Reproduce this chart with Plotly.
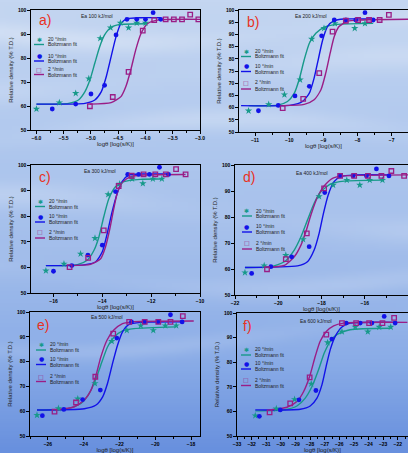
import math
import zlib
import struct
import base64
import plotly.graph_objects as go

W, H = 408, 453
TEAL = '#17998a'
BLUE = '#1212e8'
PURPLE = '#9a1d86'
RED = '#e8321f'

# ---------------- data ----------------
# Panel a  (Ea 100 kJ/mol)
a_x20 = [-6.0, -5.58, -5.28, -5.04, -4.83, -4.64, -4.46, -4.31, -4.16, -4.0]
a_y20 = [58.75, 61.4, 65.3, 71.4, 88.2, 92.6, 94.6, 92.6, 94.6, 94.6]
a_fx20 = [-6.0, -5.41, -5.23, -5.11, -5.02, -4.93, -4.84, -4.75, -4.63, -4.45, -4.0]
a_fy20 = [60.8, 61.1, 62.5, 66.0, 70.8, 77.8, 84.7, 89.6, 92.8, 94.0, 94.3]
a_x10 = [-5.71, -5.28, -5.0, -4.75, -4.54, -4.34, -4.16, -4.0, -3.86, -3.72]
a_y10 = [58.75, 60.8, 65.0, 68.6, 89.6, 96.1, 96.1, 96.1, 98.9, 96.1]
a_fx10 = [-6.0, -5.11, -4.93, -4.81, -4.72, -4.63, -4.54, -4.45, -4.33, -4.08, -3.72]
a_fy10 = [60.8, 61.1, 62.5, 66.0, 72.2, 80.6, 88.9, 94.4, 96.4, 96.8, 96.8]
a_x2 = [-5.02, -4.60, -4.31, -4.05, -3.84, -3.63, -3.48, -3.33, -3.18, -3.03]
a_y2 = [59.9, 63.75, 74.2, 91.4, 95.8, 96.1, 96.1, 96.1, 98.1, 96.1]
a_fx2 = [-5.02, -4.63, -4.45, -4.36, -4.27, -4.18, -4.08, -3.96, -3.78, -3.0]
a_fy2 = [60.8, 61.4, 63.9, 68.1, 75.0, 83.3, 90.3, 94.4, 95.8, 96.1]

# Panel b  (Ea 200 kJ/mol)
b_x20 = [-11.19, -10.60, -10.14, -9.68, -9.34, -8.98, -8.66, -8.08, -7.78]
b_y20 = [58.7, 61.3, 65.3, 71.4, 88.1, 92.5, 94.5, 92.5, 94.5]
b_fx20 = [-11.19, -10.34, -10.05, -9.85, -9.71, -9.56, -9.41, -9.22, -8.98, -8.59, -7.54]
b_fy20 = [60.8, 61.0, 62.5, 65.9, 71.4, 79.6, 86.4, 90.5, 92.9, 94.1, 94.5]
b_x10 = [-10.90, -10.32, -9.83, -9.41, -9.05, -8.68, -8.34, -8.05, -7.78, -7.54]
b_y10 = [58.7, 60.9, 64.8, 68.7, 89.4, 95.9, 95.9, 95.9, 98.9, 95.9]
b_fx10 = [-11.41, -9.95, -9.61, -9.41, -9.27, -9.15, -9.02, -8.88, -8.68, -8.39, -7.54]
b_fy10 = [60.8, 61.0, 62.5, 65.9, 72.1, 79.6, 87.7, 93.2, 95.6, 96.3, 96.3]
b_x2 = [-10.19, -9.59, -9.12, -8.73, -8.34, -7.98, -7.66, -7.35, -7.08]
b_y2 = [59.8, 63.6, 74.1, 91.1, 95.6, 95.9, 95.9, 95.9, 98.0]
b_fx2 = [-10.19, -9.56, -9.27, -9.07, -8.93, -8.80, -8.68, -8.54, -8.29, -7.91, -6.52]
b_fy2 = [60.8, 61.3, 63.2, 67.3, 74.1, 82.3, 89.1, 93.2, 95.4, 95.9, 96.2]

# Panel c  (Ea 300 kJ/mol)
c_x20 = [-16.31, -15.57, -14.89, -14.30, -13.76, -13.29, -12.78, -12.34, -11.93, -11.56]
c_y20 = [58.7, 61.4, 65.3, 71.4, 88.5, 92.6, 94.6, 92.8, 94.6, 94.6]
c_fx20 = [-16.31, -15.02, -14.62, -14.34, -14.14, -13.94, -13.73, -13.46, -13.12, -12.45, -11.56]
c_fy20 = [60.7, 61.1, 62.8, 66.7, 71.9, 79.8, 86.9, 91.5, 93.5, 94.4, 94.5]
c_x10 = [-16.0, -15.25, -14.59, -14.0, -13.46, -12.96, -12.51, -12.07, -11.66, -11.29]
c_y10 = [58.5, 60.7, 64.8, 68.7, 89.6, 96.3, 96.3, 96.3, 99.1, 96.3]
c_fx10 = [-16.31, -14.75, -14.28, -14.0, -13.80, -13.60, -13.39, -13.19, -12.92, -12.44, -11.29]
c_fy10 = [60.7, 61.0, 62.1, 66.1, 73.2, 81.7, 88.9, 93.5, 96.0, 96.5, 96.5]
c_x2 = [-15.34, -14.58, -13.94, -13.33, -12.80, -12.31, -11.83, -11.40, -10.98, -10.59]
c_y2 = [60.1, 63.7, 74.5, 91.8, 95.8, 96.3, 96.3, 96.3, 98.4, 96.3]
c_fx2 = [-15.34, -14.48, -14.07, -13.87, -13.69, -13.53, -13.37, -13.15, -12.85, -12.31, -10.59]
c_fy2 = [60.7, 61.2, 63.4, 68.0, 75.2, 83.0, 89.6, 93.5, 95.4, 96.1, 96.3]

# Panel d  (Ea 400 kJ/mol)
d_x20 = [-21.54, -20.65, -19.65, -18.85, -18.11, -17.46, -16.83, -16.23, -15.77, -15.18]
d_y20 = [58.6, 61.3, 65.3, 71.4, 87.9, 92.3, 94.2, 92.3, 94.2, 94.2]
d_fx20 = [-21.54, -20.34, -19.72, -19.26, -18.95, -18.65, -18.34, -18.03, -17.57, -16.95, -15.18]
d_fy20 = [60.6, 60.9, 62.8, 67.3, 72.4, 78.8, 85.3, 89.7, 92.7, 93.8, 94.2]
d_x10 = [-21.23, -20.34, -19.38, -18.57, -17.85, -17.14, -16.54, -15.92, -15.46, -14.88]
d_y10 = [58.3, 60.9, 64.7, 68.6, 89.4, 95.8, 95.8, 95.8, 98.5, 95.8]
d_fx10 = [-21.54, -19.11, -18.65, -18.34, -18.11, -17.91, -17.69, -17.42, -17.11, -16.49, -14.88]
d_fy10 = [60.6, 61.2, 62.8, 67.3, 73.7, 81.4, 88.5, 93.6, 95.5, 96.2, 96.2]
d_x2 = [-20.52, -19.65, -18.68, -17.88, -17.14, -16.49, -15.85, -15.23, -14.77, -14.18]
d_y2 = [59.9, 63.8, 73.7, 91.0, 95.8, 95.8, 95.8, 95.8, 97.7, 95.8]
d_fx2 = [-20.52, -19.72, -19.26, -18.95, -18.72, -18.49, -18.18, -17.88, -17.49, -16.95, -14.0]
d_fy2 = [60.6, 61.4, 64.7, 69.2, 74.4, 80.8, 87.8, 91.9, 94.9, 95.8, 96.2]

# Panel e  (Ea 500 kJ/mol)
e_x20 = [-26.61, -25.41, -24.33, -23.37, -22.43, -21.59, -20.81, -20.11, -19.44, -18.83]
e_y20 = [58.4, 61.1, 65.0, 71.2, 88.2, 92.6, 94.5, 92.6, 94.5, 94.5]
e_fx20 = [-26.61, -24.89, -24.15, -23.69, -23.31, -22.98, -22.67, -22.30, -21.83, -21.19, -18.83]
e_fy20 = [60.5, 61.0, 63.1, 67.2, 73.2, 79.9, 85.9, 89.9, 92.4, 93.3, 94.0]
e_x10 = [-26.31, -25.11, -24.06, -23.07, -22.15, -21.33, -20.59, -19.85, -19.15, -18.50]
e_y10 = [58.2, 60.7, 64.7, 68.5, 89.5, 96.0, 96.0, 96.0, 98.9, 96.0]
e_fx10 = [-26.61, -23.96, -23.31, -22.94, -22.67, -22.39, -22.11, -21.83, -21.46, -20.81, -18.50]
e_fy10 = [60.5, 61.0, 62.5, 65.8, 71.2, 79.2, 86.6, 92.0, 95.0, 95.8, 96.0]
e_x2 = [-25.63, -24.43, -23.35, -22.35, -21.46, -20.59, -19.83, -19.15, -18.46]
e_y2 = [59.8, 63.5, 73.9, 91.3, 96.0, 96.0, 96.0, 96.0, 98.3]
e_fx2 = [-25.63, -24.52, -23.96, -23.59, -23.31, -23.04, -22.70, -22.33, -21.83, -21.19, -17.85]
e_fy2 = [60.5, 61.8, 64.5, 68.5, 74.5, 81.9, 88.6, 92.6, 95.3, 96.1, 96.4]

# Panel f  (Ea 600 kJ/mol)
f_x20 = [-31.75, -30.31, -29.06, -27.92, -26.80, -25.82, -24.91, -24.05, -23.27, -22.48]
f_y20 = [58.3, 61.1, 64.9, 71.2, 88.0, 92.4, 94.3, 92.4, 94.3, 94.3]
f_fx20 = [-31.75, -29.81, -28.90, -28.33, -27.87, -27.42, -27.03, -26.62, -26.17, -25.26, -22.48]
f_fy20 = [60.2, 60.6, 62.2, 65.4, 70.1, 76.9, 83.7, 88.5, 91.2, 93.2, 93.8]
f_x10 = [-31.47, -30.04, -28.76, -27.60, -26.51, -25.53, -24.57, -23.77, -22.93, -22.18]
f_y10 = [58.0, 60.6, 64.7, 68.5, 89.4, 95.9, 95.9, 95.9, 98.6, 95.9]
f_fx10 = [-31.75, -28.67, -27.99, -27.53, -27.19, -26.90, -26.62, -26.28, -25.82, -25.26, -22.07]
f_fy10 = [60.6, 60.9, 62.2, 65.4, 70.8, 78.3, 85.1, 90.5, 94.3, 95.9, 96.2]
f_x2 = [-30.77, -29.36, -28.03, -26.89, -25.82, -24.85, -23.96, -23.05, -22.25]
f_y2 = [59.6, 63.3, 73.8, 91.2, 95.9, 95.9, 95.9, 95.9, 98.0]
f_fx2 = [-30.77, -29.58, -28.90, -28.44, -28.03, -27.65, -27.31, -26.89, -26.39, -25.71, -21.34]
f_fy2 = [60.6, 61.7, 64.0, 68.1, 74.2, 82.3, 88.5, 92.5, 94.8, 95.9, 96.2]

series_labels = ['20 °/min', '10 °/min', '2 °/min']
fit_label = 'Boltzmann fit'
panel_letters = ['a)', 'b)', 'c)', 'd)', 'e)', 'f)']
ea_labels = ['Ea 100 kJ/mol', 'Ea 200 kJ/mol', 'Ea 300 kJ/mol',
             'Ea 400 kJ/mol', 'Ea 500 kJ/mol', 'Ea 600 kJ/mol']
x_title = 'logθ [log(s/K)]'
y_title = 'Relative density (% T.D.)'

panel_data = [
    [(a_x20, a_y20, a_fx20, a_fy20), (a_x10, a_y10, a_fx10, a_fy10), (a_x2, a_y2, a_fx2, a_fy2)],
    [(b_x20, b_y20, b_fx20, b_fy20), (b_x10, b_y10, b_fx10, b_fy10), (b_x2, b_y2, b_fx2, b_fy2)],
    [(c_x20, c_y20, c_fx20, c_fy20), (c_x10, c_y10, c_fx10, c_fy10), (c_x2, c_y2, c_fx2, c_fy2)],
    [(d_x20, d_y20, d_fx20, d_fy20), (d_x10, d_y10, d_fx10, d_fy10), (d_x2, d_y2, d_fx2, d_fy2)],
    [(e_x20, e_y20, e_fx20, e_fy20), (e_x10, e_y10, e_fx10, e_fy10), (e_x2, e_y2, e_fx2, e_fy2)],
    [(f_x20, f_y20, f_fx20, f_fy20), (f_x10, f_y10, f_fx10, f_fy10), (f_x2, f_y2, f_fx2, f_fy2)],
]

# ---------------- layout geometry (pixels) ----------------
layouts = [
    dict(px=(31, 200), py=(10, 130), xr=(-6.1, -3.0), dt=0.5, mdt=0.25, fmt='.1f', ydt=10,
         letter=(45, 20), ea=(97, 16), leg=(39, [39, 44.5, 56, 61, 69, 74.5])),
    dict(px=(239, 408), py=(10, 132), xr=(-11.47, -6.52), dt=1, mdt=0.5, fmt='d', ydt=5,
         letter=(253, 22), ea=(311, 16), leg=(246, [51, 56.5, 66, 71.5, 82, 89])),
    dict(px=(31, 200), py=(165, 293), xr=(-16.92, -10.0), dt=2, mdt=1, fmt='d', ydt=10,
         letter=(45, 177), ea=(100, 171), leg=(40, [201, 206.5, 216, 222, 232, 238])),
    dict(px=(235, 408), py=(165, 295), xr=(-22.0, -14.0), dt=2, mdt=1, fmt='d', ydt=10,
         letter=(249, 177), ea=(312, 173), leg=(247, [210.5, 216, 226, 232, 243, 249])),
    dict(px=(30, 200), py=(312, 436), xr=(-27.0, -17.5), dt=2, mdt=1, fmt='d', ydt=10,
         letter=(43, 325), ea=(107, 317), leg=(41, [344, 350, 358.5, 364.5, 376, 381.5])),
    dict(px=(237, 408), py=(313, 436), xr=(-33.0, -21.3), dt=1, mdt=0.5, fmt='d', ydt=10,
         letter=(248, 326), ea=(316, 321), leg=(246, [349, 355, 363, 369, 379.5, 385.5])),
]

colors = [TEAL, BLUE, PURPLE]
markers = [dict(symbol='star', size=5.5, color=TEAL),
           dict(symbol='circle', size=4.8, color=BLUE),
           dict(symbol='square-open', size=4.5, color=PURPLE, line=dict(width=1.3, color=PURPLE))]
glyphs = ['✱', '●', '□']

FONT = 'Liberation Sans, Arial, sans-serif'


# ---------------- sky-like background image (styling only) ----------------
def make_png(w, h, fn):
    raw = bytearray()
    for yy in range(h):
        raw.append(0)
        for xx in range(w):
            raw.extend(fn(xx, yy))

    def chunk(t, d):
        return struct.pack('>I', len(d)) + t + d + struct.pack('>I', zlib.crc32(t + d) & 0xffffffff)

    png = (b'\x89PNG\r\n\x1a\n' + chunk(b'IHDR', struct.pack('>IIBBBBB', w, h, 8, 2, 0, 0, 0))
           + chunk(b'IDAT', zlib.compress(bytes(raw))) + chunk(b'IEND', b''))
    return 'data:image/png;base64,' + base64.b64encode(png).decode()


stops = [(0.0, (196, 214, 241)), (0.3, (176, 200, 238)), (0.55, (163, 190, 235)),
         (0.8, (138, 172, 231)), (1.0, (104, 144, 222))]
streaks = [(0.05, 0.025, 0.5), (0.16, 0.03, 0.35), (0.30, 0.025, 0.4), (0.47, 0.03, 0.35),
           (0.60, 0.025, 0.3), (0.74, 0.02, 0.25)]
GW, GH = 51, 113


def bg_pixel(xx, yy):
    t = yy / (GH - 1)
    u = xx / (GW - 1)
    c = stops[-1][1]
    for (t0, c0), (t1, c1) in zip(stops[:-1], stops[1:]):
        if t0 <= t <= t1:
            s = (t - t0) / (t1 - t0)
            c = tuple(c0[q] + (c1[q] - c0[q]) * s for q in range(3))
            break
    wsum = 0.0
    for yc, wd, amp in streaks:
        yc2 = yc + 0.04 * math.sin(3.0 * u + yc * 10)
        wsum += amp * math.exp(-((t - yc2) / wd) ** 2) * (0.6 + 0.4 * math.sin(5 * u + yc * 17))
    wsum = min(wsum, 0.8)
    return bytes(int(c[q] + (255 - c[q]) * wsum * 0.6) for q in range(3))


bg_uri = make_png(GW, GH, bg_pixel)

fig = go.Figure()
ann = []
shapes = []


def fx(p):
    return p / W


def fy(p):
    return 1 - p / H


for i, (data, L) in enumerate(zip(panel_data, layouts)):
    k = i + 1
    xa = 'x' if k == 1 else f'x{k}'
    ya = 'y' if k == 1 else f'y{k}'
    for j, (xs, ys, fxs, fys) in enumerate(data):
        fig.add_trace(go.Scatter(x=fxs, y=fys, mode='lines',
                                 line=dict(color=colors[j], width=1.4, shape='spline', smoothing=0.6),
                                 xaxis=xa, yaxis=ya, showlegend=False, hoverinfo='skip'))
    for j, (xs, ys, fxs, fys) in enumerate(data):
        fig.add_trace(go.Scatter(x=xs, y=ys, mode='markers', marker=markers[j],
                                 xaxis=xa, yaxis=ya, showlegend=False, name=series_labels[j]))
    axkey = 'xaxis' if k == 1 else f'xaxis{k}'
    aykey = 'yaxis' if k == 1 else f'yaxis{k}'
    fig.update_layout({
        axkey: dict(domain=[fx(L['px'][0]), min(1.0, fx(L['px'][1]))], range=list(L['xr']),
                    anchor=ya, automargin=False, showline=True, linecolor='black', linewidth=1.3,
                    mirror=True, ticks='outside', ticklen=2.5, tickwidth=1, tickcolor='black',
                    dtick=L['dt'], tick0=0, tickformat=L['fmt'], showgrid=False, zeroline=False,
                    minor=dict(dtick=L['mdt'], ticks='outside', ticklen=1.5, tickcolor='black',
                               showgrid=False),
                    tickfont=dict(size=5, family=FONT, color='black', weight='bold'),
                    title=dict(text=x_title, font=dict(size=6, family=FONT, color='#222'), standoff=1)),
        aykey: dict(domain=[fy(L['py'][1]), fy(L['py'][0])], range=[50, 100], anchor=xa,
                    automargin=False, showline=True, linecolor='black', linewidth=1.3, mirror=True,
                    ticks='outside', ticklen=2.5, tickwidth=1, tickcolor='black', dtick=L['ydt'],
                    showgrid=False, zeroline=False,
                    tickfont=dict(size=5, family=FONT, color='black', weight='bold'),
                    title=dict(text=y_title, font=dict(size=6, family=FONT, color='#222'), standoff=3)),
    })
    ann.append(dict(x=fx(L['letter'][0]), y=fy(L['letter'][1]), xref='paper', yref='paper',
                    text=panel_letters[i], showarrow=False, xanchor='center', yanchor='middle',
                    font=dict(size=14, family=FONT, color=RED)))
    ann.append(dict(x=fx(L['ea'][0]), y=fy(L['ea'][1]), xref='paper', yref='paper',
                    text=ea_labels[i], showarrow=False, xanchor='center', yanchor='middle',
                    font=dict(size=5, family=FONT, color='#222')))
    lx, lys = L['leg']
    for j in range(3):
        ym = lys[2 * j]
        yl = lys[2 * j + 1]
        ann.append(dict(x=fx(lx), y=fy(ym), xref='paper', yref='paper', text=glyphs[j],
                        showarrow=False, xanchor='center', yanchor='middle',
                        font=dict(size=6, family='DejaVu Sans', color=colors[j])))
        ann.append(dict(x=fx(lx + 7), y=fy(ym), xref='paper', yref='paper', text=series_labels[j],
                        showarrow=False, xanchor='left', yanchor='middle',
                        font=dict(size=5, family=FONT, color='#222')))
        shapes.append(dict(type='line', xref='paper', yref='paper', x0=fx(lx - 5), x1=fx(lx + 5),
                           y0=fy(yl), y1=fy(yl), line=dict(color=colors[j], width=1.4)))
        ann.append(dict(x=fx(lx + 7), y=fy(yl), xref='paper', yref='paper', text=fit_label,
                        showarrow=False, xanchor='left', yanchor='middle',
                        font=dict(size=5, family=FONT, color='#222')))

fig.update_layout(template='none', width=W, height=H, margin=dict(l=0, r=0, t=0, b=0, pad=0),
                  paper_bgcolor='rgb(170,196,236)', plot_bgcolor='rgba(0,0,0,0)',
                  annotations=ann, shapes=shapes, showlegend=False,
                  images=[dict(source=bg_uri, xref='paper', yref='paper', x=0, y=1, sizex=1, sizey=1,
                               sizing='stretch', xanchor='left', yanchor='top', layer='below')])

fig.write_html('out.html', config={'displayModeBar': False},
               post_script="document.body.style.margin='0';document.body.style.padding='0';"
                           "document.documentElement.style.overflow='hidden';")
